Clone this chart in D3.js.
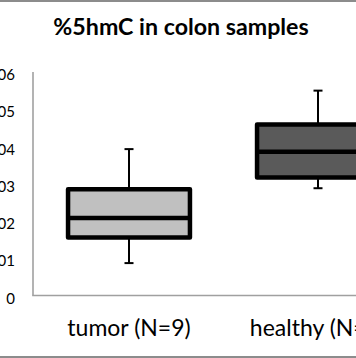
<!DOCTYPE html>
<html>
<head>
<meta charset="utf-8">
<script src="https://cdn.jsdelivr.net/npm/d3@7"></script>
<style>
  html, body { margin: 0; padding: 0; background: #fff; }
  svg { display: block; }
</style>
</head>
<body>
<script>
const categories = ["tumor (N=9)", "healthy (N=9)"];
const whiskerLow  = [0.0087, 0.0288];
const q1          = [0.0156, 0.0317];
const median      = [0.0208, 0.0386];
const q3          = [0.0285, 0.0459];
const whiskerHigh = [0.0393, 0.0550];
const fills       = ["#c0c0c0", "#5a5a5a"];
const yTicks      = [0, 0.01, 0.02, 0.03, 0.04, 0.05, 0.06];
const yTickLabels = ["0", "0.01", "0.02", "0.03", "0.04", "0.05", "0.06"];
const title = "%5hmC in colon samples";

const W = 356, H = 358;
const font = "Lato, 'Open Sans', sans-serif";

const svg = d3.select("body").append("svg").attr("width", W).attr("height", H);
svg.append("rect").attr("width", W).attr("height", H).attr("fill", "#fff");

// chart border (cropped)
svg.append("rect").attr("x", -20).attr("y", 1).attr("width", W + 40).attr("height", 356)
  .attr("fill", "none").attr("stroke", "#8c8c8c").attr("stroke-width", 2);

const x = d3.scaleBand().domain(categories).range([34.5, 412.5]).paddingInner(0).paddingOuter(0);
const y = d3.scaleLinear().domain([0, 0.06]).range([295.5, 72]);

// title
svg.append("text").attr("x", 181).attr("y", 35).attr("text-anchor", "middle")
  .attr("font-family", font).attr("font-weight", "bold").attr("font-size", 23.2)
  .attr("fill", "#000").text(title);

// y axis labels
const yAxis = d3.axisLeft(y).tickValues(yTicks).tickFormat((d, i) => yTickLabels[i]).tickSize(0).tickPadding(0);
const yg = svg.append("g").attr("transform", "translate(15,0)").call(yAxis);
yg.select(".domain").remove();
yg.selectAll("text").attr("font-family", font).attr("font-size", 15).attr("fill", "#000").attr("dy", "0.5em");

// axis lines
svg.append("line").attr("x1", 33).attr("x2", 33).attr("y1", y(0.06)).attr("y2", y(0))
  .attr("stroke", "#a0a0a0").attr("stroke-width", 1.6);
svg.append("line").attr("x1", 32.2).attr("x2", W + 10).attr("y1", y(0)).attr("y2", y(0))
  .attr("stroke", "#a0a0a0").attr("stroke-width", 1.6);

// x labels
const xAxis = d3.axisBottom(x).tickSize(0).tickPadding(0);
const xg = svg.append("g").attr("transform", "translate(0,336)").call(xAxis);
xg.select(".domain").remove();
xg.selectAll("text").attr("font-family", font).attr("font-size", 23).attr("fill", "#000").attr("dy", 0);

// boxes
const boxW = x.bandwidth() * 0.645;
const capW = 9;
categories.forEach((c, i) => {
  const cx = x(c) + x.bandwidth() / 2;
  const g = svg.append("g");
  g.append("line").attr("x1", cx).attr("x2", cx).attr("y1", y(q3[i])).attr("y2", y(whiskerHigh[i]))
    .attr("stroke", "#000").attr("stroke-width", 2);
  g.append("line").attr("x1", cx).attr("x2", cx).attr("y1", y(q1[i])).attr("y2", y(whiskerLow[i]))
    .attr("stroke", "#000").attr("stroke-width", 2);
  g.append("line").attr("x1", cx - capW / 2).attr("x2", cx + capW / 2).attr("y1", y(whiskerHigh[i])).attr("y2", y(whiskerHigh[i]))
    .attr("stroke", "#000").attr("stroke-width", 2);
  g.append("line").attr("x1", cx - capW / 2).attr("x2", cx + capW / 2).attr("y1", y(whiskerLow[i])).attr("y2", y(whiskerLow[i]))
    .attr("stroke", "#000").attr("stroke-width", 2);
  g.append("rect").attr("x", cx - boxW / 2).attr("y", y(q3[i])).attr("width", boxW).attr("height", y(q1[i]) - y(q3[i]))
    .attr("fill", fills[i]).attr("stroke", "#000").attr("stroke-width", 4.5).attr("stroke-linejoin", "round");
  g.append("line").attr("x1", cx - boxW / 2).attr("x2", cx + boxW / 2).attr("y1", y(median[i])).attr("y2", y(median[i]))
    .attr("stroke", "#000").attr("stroke-width", 4.5);
});
</script>
</body>
</html>
